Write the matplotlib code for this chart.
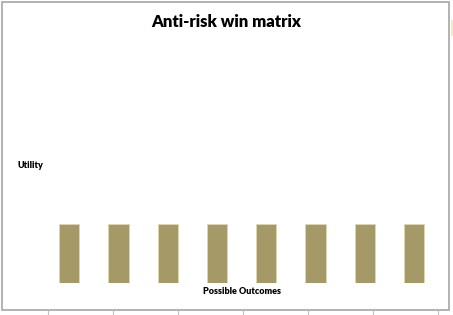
import matplotlib
matplotlib.use("Agg")
import matplotlib.pyplot as plt
from matplotlib.patches import Rectangle
from matplotlib.lines import Line2D

outcomes = ["1", "2", "3", "4", "5", "6", "7", "8"]
utility = [1, 1, 1, 1, 1, 1, 1, 1]
title = "Anti-risk win matrix"
ylabel = "Utility"
xlabel = "Possible Outcomes"

W, H = 453, 315
fig = plt.figure(figsize=(W / 100, H / 100), dpi=100)
fig.patch.set_facecolor("white")

def px(x0, y0, x1, y1):
    return [x0 / W, 1 - y1 / H, (x1 - x0) / W, (y1 - y0) / H]

ax = fig.add_axes(px(44.5, 47, 438.8, 283))
xs = list(range(1, len(outcomes) + 1))
ax.bar(xs, utility, width=0.41, color="#a59a67", edgecolor="#ddd6b2", linewidth=0.7)
ax.set_xlim(0.5, len(outcomes) + 0.5)
ax.set_ylim(0, 4)
ax.axis("off")

font = "Lato"
fig.text(226.5 / W, 1 - 22 / H, title, ha="center", va="center",
         fontsize=12, fontweight="heavy", family=font)
fig.text(17 / W, 1 - 166 / H, ylabel, ha="left", va="center",
         fontsize=6.5, fontweight="heavy", family=font)
fig.text(242 / W, 1 - 292 / H, xlabel, ha="center", va="center",
         fontsize=6.5, fontweight="heavy", family=font)

# spreadsheet frame
fig.add_artist(Rectangle((1.5 / W, 1 - 310 / H), 447.5 / W, 308.5 / H,
                         transform=fig.transFigure, fill=False,
                         edgecolor="#a6a6a6", linewidth=1.2))
for x in [48, 113, 178, 243, 308, 373, 438]:
    fig.add_artist(Line2D([x / W, x / W], [1 - 311 / H, 1 - 315 / H],
                          transform=fig.transFigure, color="#c0c0c0", linewidth=0.8))
fig.add_artist(Rectangle((451 / W, 1 - 36 / H), 2 / W, 16 / H,
                         transform=fig.transFigure, facecolor="#f3ecc0",
                         edgecolor="none"))

fig.savefig("out.png", dpi=100)
